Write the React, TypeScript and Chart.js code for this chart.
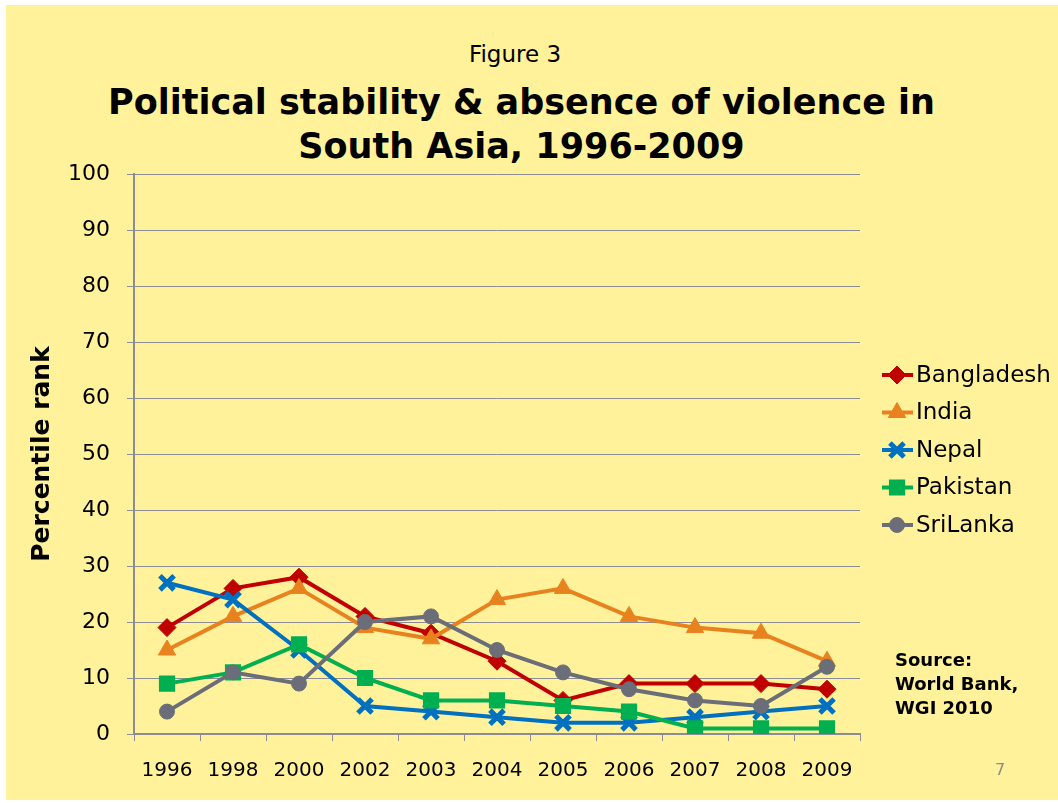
import React, { useEffect, useRef } from 'react';
import { Chart, registerables } from 'chart.js';
import { drawPoint } from 'chart.js/helpers';

Chart.register(...registerables);

const years = ['1996', '1998', '2000', '2002', '2003', '2004', '2005', '2006', '2007', '2008', '2009'];
const bangladesh = [19, 26, 28, 21, 18, 13, 6, 9, 9, 9, 8];
const india = [15, 21, 26, 19, 17, 24, 26, 21, 19, 18, 13];
const nepal = [27, 24, 15, 5, 4, 3, 2, 2, 3, 4, 5];
const pakistan = [9, 11, 16, 10, 6, 6, 5, 4, 1, 1, 1];
const sriLanka = [4, 11, 9, 20, 21, 15, 11, 8, 6, 5, 12];
const seriesNames = ['Bangladesh', 'India', 'Nepal', 'Pakistan', 'SriLanka'];
const yMin = 0;
const yMax = 100;
const yStep = 10;

const FONT = '"DejaVu Sans", Verdana, sans-serif';
const GRID = '#8c8c96';

const lineLegend = {
  id: 'lineLegend',
  afterDraw(chart: any) {
    const ctx = chart.ctx;
    chart.data.datasets.forEach((ds: any, i: number) => {
      const y = 375 + i * 37.5;
      ctx.save();
      ctx.strokeStyle = ds.borderColor;
      ctx.lineWidth = 4;
      ctx.beginPath();
      ctx.moveTo(882, y);
      ctx.lineTo(913, y);
      ctx.stroke();
      ctx.fillStyle = ds.pointBackgroundColor;
      ctx.strokeStyle = ds.pointBorderColor;
      ctx.lineWidth = ds.pointBorderWidth;
      drawPoint(ctx, { pointStyle: ds.pointStyle, rotation: 0, radius: ds.pointRadius, borderWidth: ds.pointBorderWidth }, 897, y);
      ctx.fillStyle = '#000';
      ctx.font = '23px ' + FONT;
      ctx.textBaseline = 'middle';
      ctx.textAlign = 'left';
      ctx.fillText(ds.label, 916, y + 1);
      ctx.restore();
    });
  },
};

function makeDs(label: string, data: number[], color: string, style: string, radius: number, bw: number, order: number) {
  return {
    label,
    data,
    borderColor: color,
    backgroundColor: color,
    borderWidth: 4,
    tension: 0,
    pointStyle: style,
    pointRadius: radius,
    pointHoverRadius: radius,
    pointBackgroundColor: color,
    pointBorderColor: color,
    pointBorderWidth: bw,
    order,
  };
}

export default function App() {
  const ref = useRef<HTMLCanvasElement>(null);
  useEffect(() => {
    if (!ref.current) return;
    const chart = new Chart(ref.current, {
      type: 'line',
      data: {
        labels: years,
        datasets: [
          makeDs(seriesNames[0], bangladesh, '#C00000', 'rectRot', 9, 1, 5),
          makeDs(seriesNames[1], india, '#E8821E', 'triangle', 10, 1, 4),
          makeDs(seriesNames[2], nepal, '#0070C0', 'crossRot', 10, 5, 3),
          makeDs(seriesNames[3], pakistan, '#00B050', 'rect', 10, 2, 2),
          makeDs(seriesNames[4], sriLanka, '#6B6E78', 'circle', 7.5, 1, 1),
        ],
      },
      options: {
        responsive: false,
        animation: false,
        layout: { padding: { left: 0, top: 174, right: 198, bottom: 0 } },
        plugins: { legend: { display: false }, tooltip: { enabled: false } },
        scales: {
          x: {
            type: 'category',
            offset: true,
            grid: { display: true, drawOnChartArea: false, drawTicks: true, tickLength: 7, color: GRID, offset: true },
            border: { display: true, color: GRID, width: 2 },
            ticks: { color: '#000', font: { family: FONT, size: 20 }, padding: 18, maxRotation: 0, autoSkip: false },
            afterFit: (s: any) => { s.height = 69; },
          },
          y: {
            min: yMin,
            max: yMax,
            ticks: { stepSize: yStep, color: '#000', font: { family: FONT, size: 22 }, padding: 17 },
            grid: { color: GRID, lineWidth: 1, tickLength: 7 },
            border: { display: true, color: GRID, width: 2 },
            title: {
              display: true,
              text: 'Percentile rank',
              color: '#000',
              font: { family: FONT, size: 25, weight: 'bold' },
              padding: { top: 27, bottom: 0 },
            },
            afterFit: (s: any) => { s.width = 134; },
          },
        },
      } as any,
      plugins: [lineLegend],
    });
    return () => chart.destroy();
  }, []);

  return (
    <div style={{ position: 'fixed', left: 0, top: 0, width: 1058, height: 803, background: '#fff', overflow: 'hidden' }}>
      <div style={{ position: 'absolute', left: 6, top: 5, width: 1052, height: 795, background: '#FFF29B' }} />
      <div style={{ position: 'absolute', left: 0, top: 40, width: 1030, lineHeight: '28px', textAlign: 'center', fontFamily: FONT, fontSize: 23, color: '#000' }}>Figure 3</div>
      <div style={{ position: 'absolute', left: 0, top: 81, width: 1043, lineHeight: '43.5px', textAlign: 'center', fontFamily: FONT, fontSize: 35, fontWeight: 'bold', color: '#000' }}>
        Political stability &amp; absence of violence in<br />South Asia, 1996-2009
      </div>
      <canvas ref={ref} width={1058} height={803} style={{ position: 'absolute', left: 0, top: 0, display: 'block' }} />
      <div style={{ position: 'absolute', left: 895, top: 648, lineHeight: '24px', fontFamily: FONT, fontSize: 18, fontWeight: 'bold', color: '#000', whiteSpace: 'nowrap' }}>
        Source:<br />World Bank,<br />WGI 2010
      </div>
      <div style={{ position: 'absolute', left: 995, top: 760, lineHeight: '20px', fontFamily: FONT, fontSize: 16, color: '#8c8c8c' }}>7</div>
    </div>
  );
}
